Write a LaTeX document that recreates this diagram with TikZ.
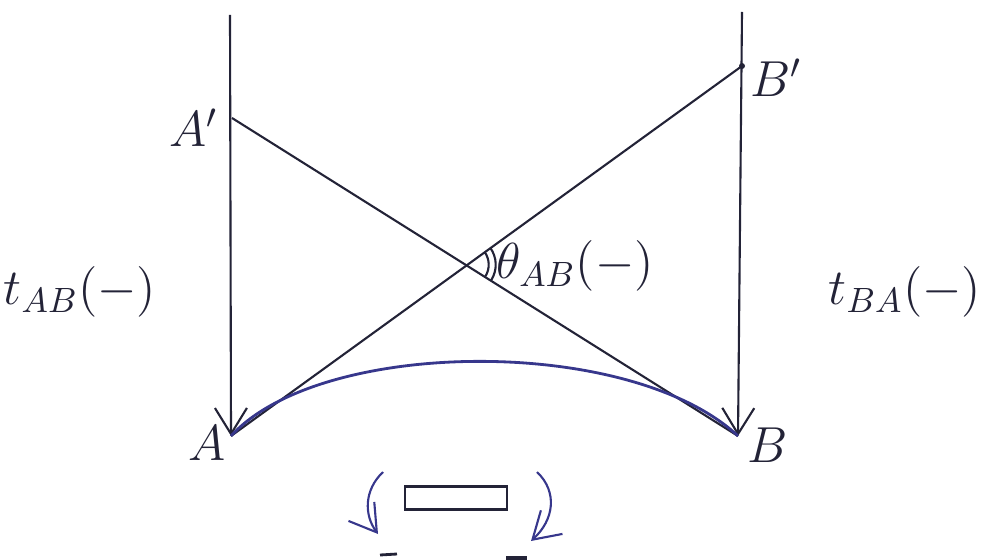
\documentclass[tikz,border=0pt]{standalone}
\usepackage{amsmath}
\usepackage{amssymb}
\usetikzlibrary{arrows.meta}

\definecolor{pen}{RGB}{35,35,55}
\definecolor{bluepen}{RGB}{55,55,140}

\begin{document}
\begin{tikzpicture}[x=0.1mm, y=-0.1mm, line width=0.6pt, pen,
    >={Straight Barb[length=2.6mm,width=3.2mm]},
    lbl/.style={font=\Large, text=pen, inner sep=1pt}]
            \useasboundingbox (0,0) rectangle (984,560);

            % points
            \coordinate (TA) at (230,15);
            \coordinate (TB) at (742,12);
            \coordinate (A) at (231,436);
            \coordinate (B) at (738,436);
            \coordinate (A1) at (232,118);
            \coordinate (B1) at (742,66);
            \coordinate (X) at (466.7,264.7);

            % world lines
            \draw[->] (TA) -- (A);
            \draw[->] (TB) -- (B);

            % signals
            \draw (A1) -- (B);
            \draw (B1) -- (A);
            \fill (B1) circle (3);

            % curve from A to B
            \draw[bluepen, line width=0.8pt] (A) .. controls (320,338) and (630,335) .. (B);

            % angle marks
            \draw ([shift={(-36:22)}]X) arc[start angle=-36, end angle=32, radius=22];
            \draw ([shift={(-36:29)}]X) arc[start angle=-36, end angle=32, radius=29];

            % labels
            \node[lbl] (lA1) at (194,128) {$A'$};
            \node[lbl] (lB1) at (776,78) {$B'$};
            \node[lbl] (lA) at (207,443) {$A$};
            \node[lbl] (lB) at (768,445) {$B$};
            \node[lbl] (tAB) at (80,292) {$t_{AB}(-)$};
            \node[lbl] (tBA) at (905,292) {$t_{BA}(-)$};
            \node[lbl] (th) at (575,266) {$\theta_{AB}(-)$};

            % bottom
            \node[draw, minimum width=10.2mm, minimum height=2.3mm, inner sep=0pt] (box) at (456,498) {};
            \draw[->, bluepen] (383,472) .. controls (364,490) and (364,515) .. (378,534);
            \draw[->, bluepen] (537,472) .. controls (558,492) and (554,520) .. (531,541);
            \draw[line width=0.8pt] (380,555) -- (397,554);
            \draw[line width=1pt] (506,558) -- (527,558);
        \end{tikzpicture}
\end{document}
